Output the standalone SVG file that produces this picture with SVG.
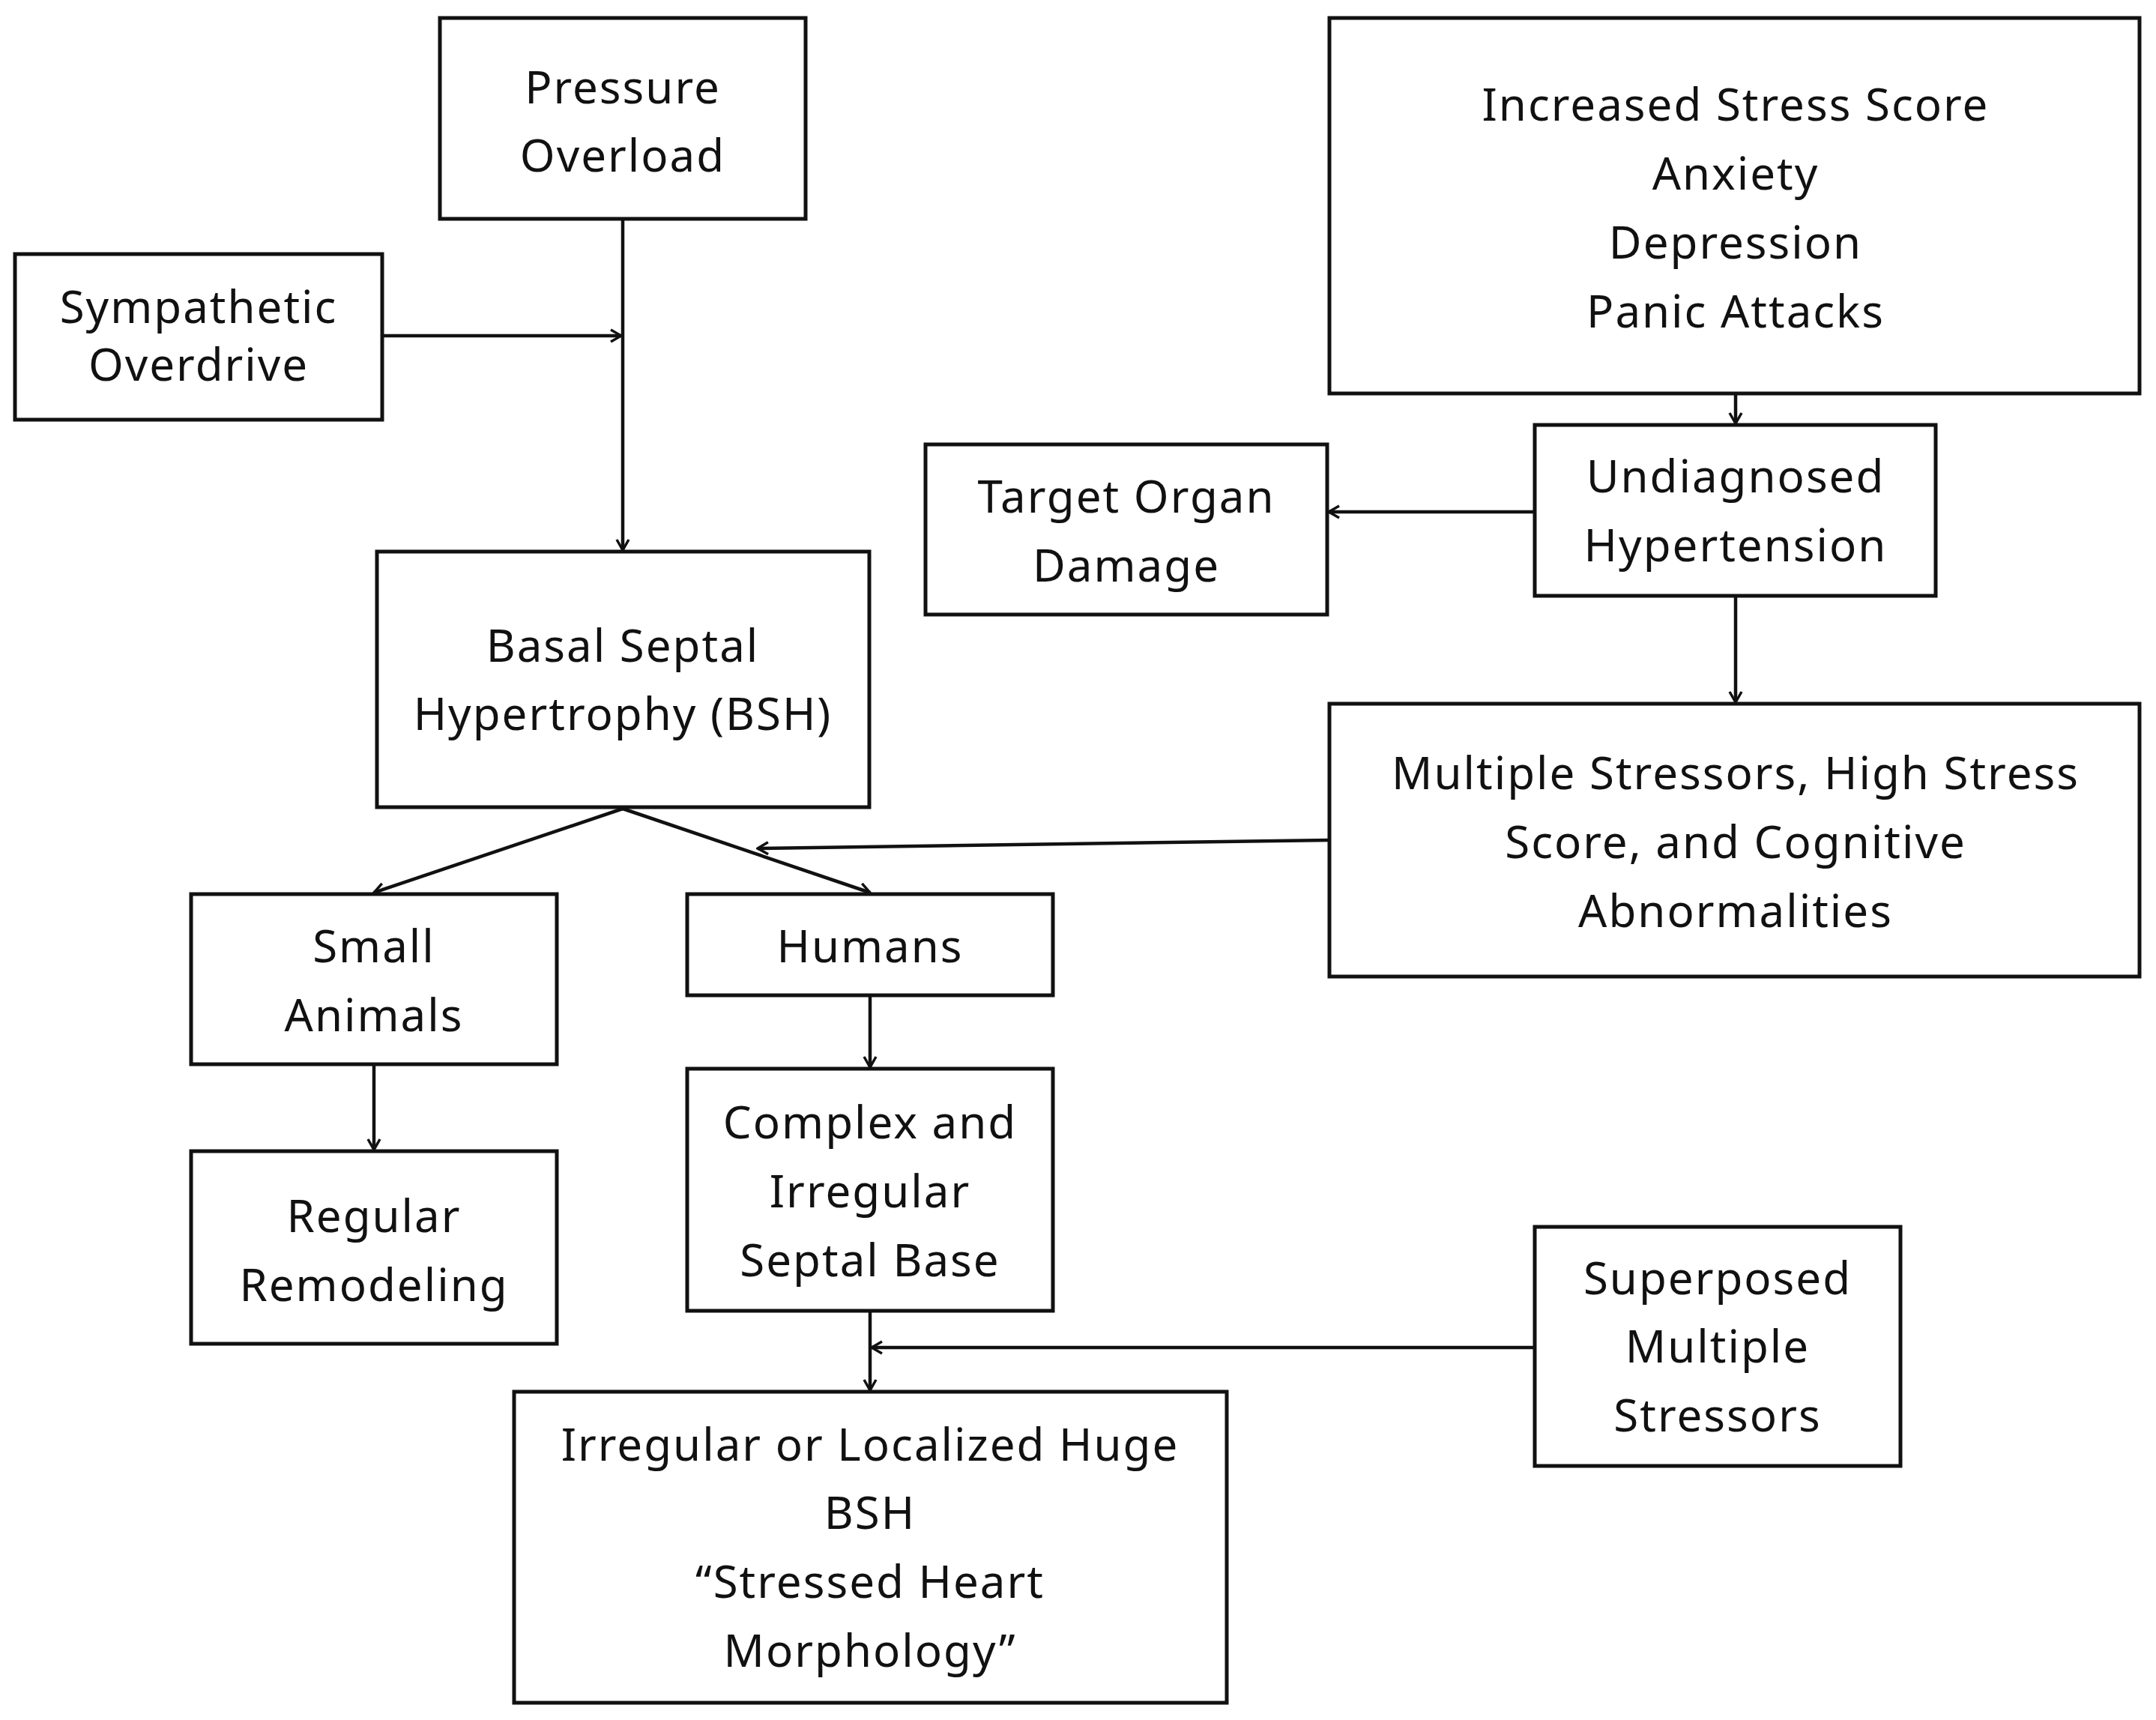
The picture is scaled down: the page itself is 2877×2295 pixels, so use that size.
<svg xmlns="http://www.w3.org/2000/svg" width="2877" height="2295" viewBox="0 0 2877 2295">
<defs>
<style>
.b{fill:#fff;stroke:#111;stroke-width:5}
.t{font-family:"Noto Sans","Open Sans",sans-serif;font-size:60px;fill:#111;text-anchor:middle;letter-spacing:2px}
.c{fill:none;stroke:#111;stroke-width:4.5}
</style>
<marker id="a" viewBox="0 0 20 20" refX="18" refY="10" markerWidth="20" markerHeight="20" markerUnits="userSpaceOnUse" orient="auto">
<path d="M4,2 L18,10 L4,18" fill="none" stroke="#111" stroke-width="3.5"/>
</marker>
</defs>
<rect width="2877" height="2295" fill="#fff"/>
<g id="connectors">
<line class="c" x1="831" y1="292" x2="831" y2="734" marker-end="url(#a)"/>
<line class="c" x1="510" y1="448" x2="829" y2="448" marker-end="url(#a)"/>
<line class="c" x1="2316" y1="525" x2="2316" y2="565" marker-end="url(#a)"/>
<line class="c" x1="2048" y1="683" x2="1773" y2="683" marker-end="url(#a)"/>
<line class="c" x1="2316" y1="795" x2="2316" y2="937" marker-end="url(#a)"/>
<line class="c" x1="831" y1="1079" x2="499" y2="1191" marker-end="url(#a)"/>
<line class="c" x1="831" y1="1079" x2="1161" y2="1191" marker-end="url(#a)"/>
<line class="c" x1="1774" y1="1121" x2="1011" y2="1132" marker-end="url(#a)"/>
<line class="c" x1="1161" y1="1328" x2="1161" y2="1424" marker-end="url(#a)"/>
<line class="c" x1="499" y1="1420" x2="499" y2="1534" marker-end="url(#a)"/>
<line class="c" x1="1161" y1="1749" x2="1161" y2="1855" marker-end="url(#a)"/>
<line class="c" x1="2048" y1="1798" x2="1163" y2="1798" marker-end="url(#a)"/>
</g>
<g id="pressure"><rect class="b" x="587" y="24" width="488" height="268"/><text class="t" x="831" y="138">Pressure</text><text class="t" x="831" y="229">Overload</text></g>
<g id="sympathetic"><rect class="b" x="20" y="339" width="490" height="221"/><text class="t" x="265" y="431">Sympathetic</text><text class="t" x="265" y="508">Overdrive</text></g>
<g id="bsh"><rect class="b" x="503" y="736" width="657" height="341"/><text class="t" x="831" y="883">Basal Septal</text><text class="t" x="831" y="974">Hypertrophy (BSH)</text></g>
<g id="stress"><rect class="b" x="1774" y="24" width="1081" height="501"/><text class="t" x="2316" y="161">Increased Stress Score</text><text class="t" x="2316" y="253">Anxiety</text><text class="t" x="2316" y="345">Depression</text><text class="t" x="2316" y="437">Panic Attacks</text></g>
<g id="undiagnosed"><rect class="b" x="2048" y="567" width="535" height="228"/><text class="t" x="2316" y="657">Undiagnosed</text><text class="t" x="2316" y="749">Hypertension</text></g>
<g id="target"><rect class="b" x="1235" y="593" width="536" height="227"/><text class="t" x="1503" y="684">Target Organ</text><text class="t" x="1503" y="776">Damage</text></g>
<g id="multiple"><rect class="b" x="1774" y="939" width="1081" height="364"/><text class="t" x="2316" y="1053">Multiple Stressors, High Stress</text><text class="t" x="2316" y="1145">Score, and Cognitive</text><text class="t" x="2316" y="1237">Abnormalities</text></g>
<g id="small"><rect class="b" x="255" y="1193" width="488" height="227"/><text class="t" x="499" y="1284">Small</text><text class="t" x="499" y="1376">Animals</text></g>
<g id="humans"><rect class="b" x="917" y="1193" width="488" height="135"/><text class="t" x="1161" y="1284">Humans</text></g>
<g id="regular"><rect class="b" x="255" y="1536" width="488" height="257"/><text class="t" x="499" y="1644">Regular</text><text class="t" x="499" y="1736">Remodeling</text></g>
<g id="complex"><rect class="b" x="917" y="1426" width="488" height="323"/><text class="t" x="1161" y="1519">Complex and</text><text class="t" x="1161" y="1611">Irregular</text><text class="t" x="1161" y="1703">Septal Base</text></g>
<g id="irregular"><rect class="b" x="686" y="1857" width="951" height="415"/><text class="t" x="1161" y="1949">Irregular or Localized Huge</text><text class="t" x="1161" y="2040">BSH</text><text class="t" x="1161" y="2132">“Stressed Heart</text><text class="t" x="1161" y="2224">Morphology”</text></g>
<g id="superposed"><rect class="b" x="2048" y="1637" width="488" height="319"/><text class="t" x="2292" y="1727">Superposed</text><text class="t" x="2292" y="1818">Multiple</text><text class="t" x="2292" y="1910">Stressors</text></g>
</svg>
